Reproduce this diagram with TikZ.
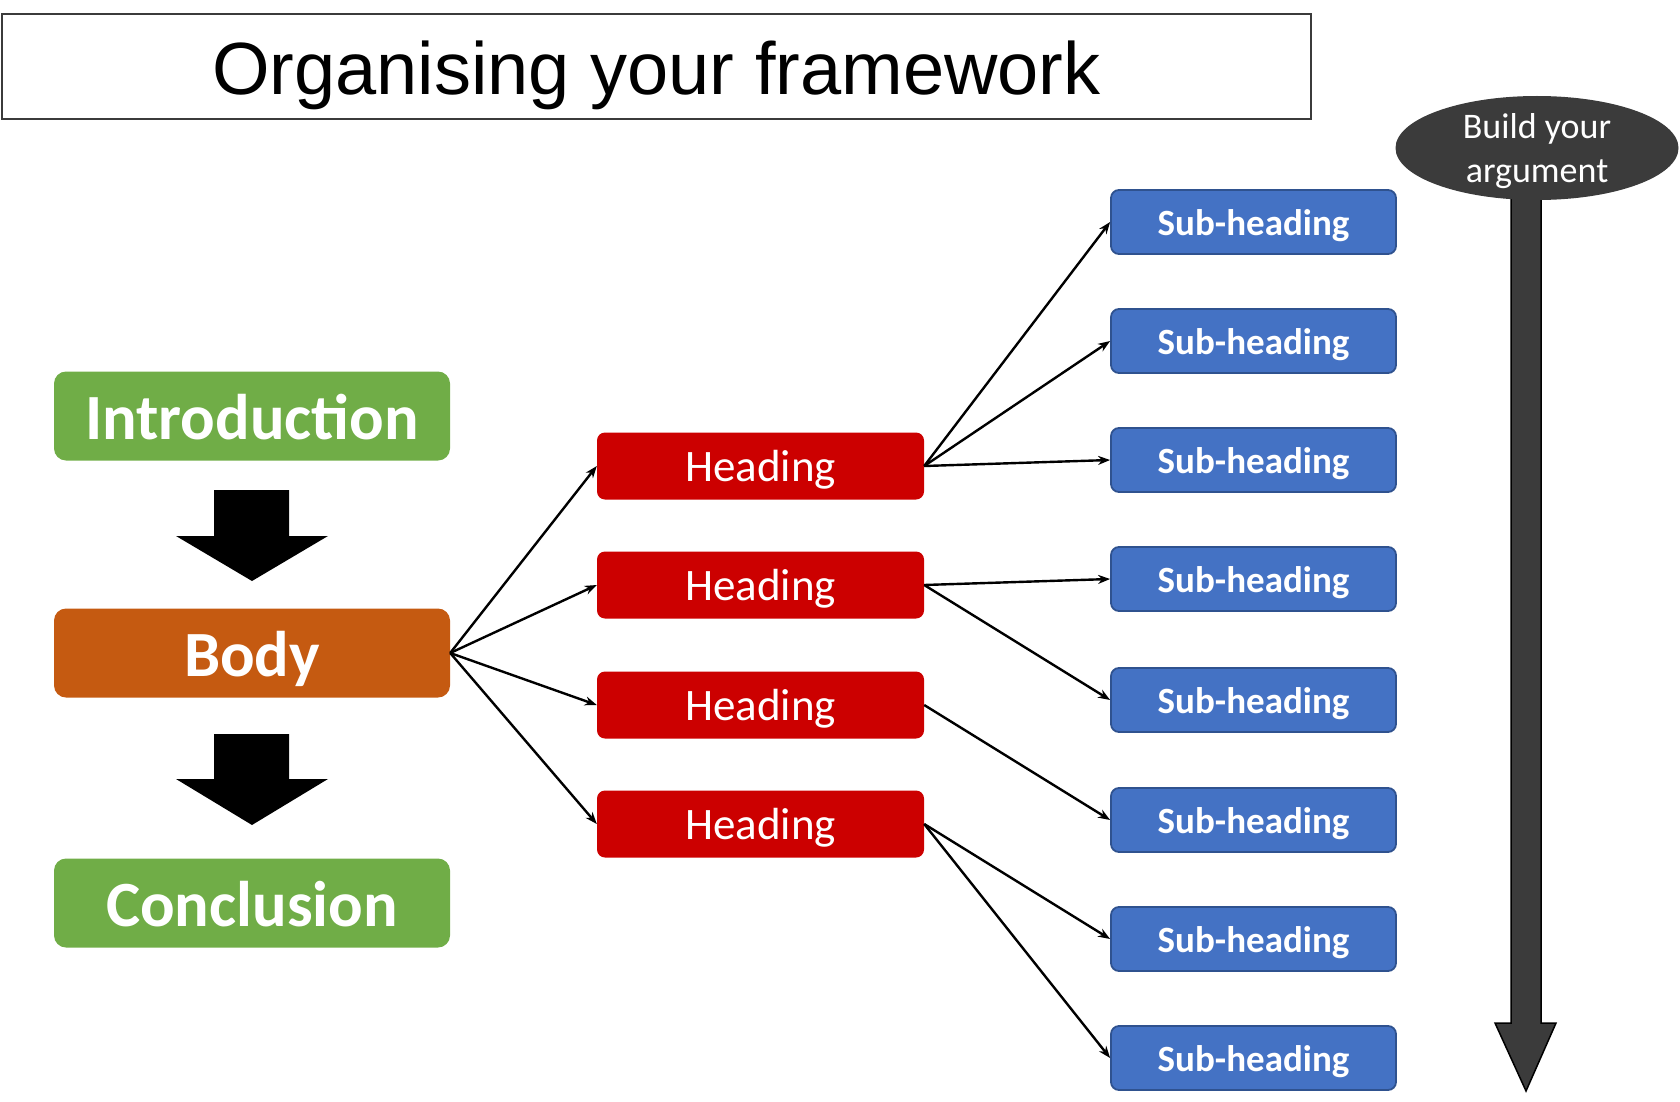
\documentclass[tikz,border=0pt]{standalone}
\usepackage{fontspec}
\setmainfont{Carlito}
\newfontfamily\titlefont{Liberation Sans}
\usetikzlibrary{arrows.meta,shapes.geometric}
\definecolor{cgreen}{HTML}{70AD47}
\definecolor{corange}{HTML}{C55A11}
\definecolor{cred}{HTML}{CC0000}
\definecolor{cblue}{HTML}{4472C4}
\definecolor{cblueb}{HTML}{2F528F}
\definecolor{cdark}{HTML}{3B3B3B}
% baseline placed #1 pt below the node centre
\newcommand{\bl}[2]{\makebox[0pt]{\raisebox{-#1pt}[0pt][0pt]{#2}}}
\tikzset{
  mainbox/.style={rectangle, rounded corners=12pt, minimum width=396pt, minimum height=89pt, inner sep=0pt, text=white, font=\bfseries\fontsize{64.5}{70}\selectfont},
  headbox/.style={rectangle, rounded corners=8pt, fill=cred, minimum width=327pt, minimum height=67pt, inner sep=0pt, text=white, font=\fontsize{45}{50}\selectfont},
  subbox/.style={rectangle, rounded corners=8pt, fill=cblue, draw=cblueb, line width=1.8pt, minimum width=285pt, minimum height=64pt, inner sep=0pt, text=white, font=\bfseries\fontsize{37}{42}\selectfont},
  conn/.style={line width=2.4pt, -{Stealth[length=12pt,width=9pt]}},
  blockarrow/.style={fill=black},
}
\begin{document}
\begin{tikzpicture}[x=1pt,y=-1pt]
\useasboundingbox (0,0) rectangle (1680,1102);
% title
\node[draw=cdark, line width=2pt, minimum width=1309pt, minimum height=105pt, inner sep=0pt, font=\titlefont\fontsize{74}{80}\selectfont] (title) at (656.5,66.5) {\bl{28}{Organising your framework}};
% left column
\node[mainbox, fill=cgreen] (intro) at (252,416) {\bl{23.5}{Introduction}};
\node[mainbox, fill=corange] (body) at (252,653) {\bl{23.5}{Body}};
\node[mainbox, fill=cgreen] (concl) at (252,903) {\bl{23.5}{Conclusion}};
\fill[blockarrow] (214,490) -- (289,490) -- (289,536) -- (328,536) -- (252,581) -- (176,536) -- (214,536) -- cycle;
\fill[blockarrow] (214,734) -- (289,734) -- (289,779) -- (328,779) -- (252,825) -- (176,779) -- (214,779) -- cycle;
% headings
\node[headbox] (h1) at (760.5,466) {\bl{15.5}{Heading}};
\node[headbox] (h2) at (760.5,585) {\bl{15.5}{Heading}};
\node[headbox] (h3) at (760.5,705) {\bl{15.5}{Heading}};
\node[headbox] (h4) at (760.5,824) {\bl{15.5}{Heading}};
% sub-headings
\node[subbox] (s1) at (1253.5,222) {\bl{13.5}{Sub-heading}};
\node[subbox] (s2) at (1253.5,341) {\bl{13.5}{Sub-heading}};
\node[subbox] (s3) at (1253.5,460) {\bl{13.5}{Sub-heading}};
\node[subbox] (s4) at (1253.5,579) {\bl{13.5}{Sub-heading}};
\node[subbox] (s5) at (1253.5,700) {\bl{13.5}{Sub-heading}};
\node[subbox] (s6) at (1253.5,820) {\bl{13.5}{Sub-heading}};
\node[subbox] (s7) at (1253.5,939) {\bl{13.5}{Sub-heading}};
\node[subbox] (s8) at (1253.5,1058) {\bl{13.5}{Sub-heading}};
% connectors
\foreach \h in {h1,h2,h3,h4} \draw[conn] (body.east) -- (\h.west);
\draw[conn] (h1.east) -- (s1.west);
\draw[conn] (h1.east) -- (s2.west);
\draw[conn] (h1.east) -- (s3.west);
\draw[conn] (h2.east) -- (s4.west);
\draw[conn] (h2.east) -- (s5.west);
\draw[conn] (h3.east) -- (s6.west);
\draw[conn] (h4.east) -- (s7.west);
\draw[conn] (h4.east) -- (s8.west);
% build your argument
\draw[fill=cdark, draw=black, line width=1.5pt] (1511,180) -- (1541,180) -- (1541,1023) -- (1556,1023) -- (1526,1091) -- (1495,1023) -- (1511,1023) -- cycle;
\node[ellipse, fill=cdark, minimum width=283pt, minimum height=104pt, inner sep=0pt, text=white, font=\fontsize{36}{45}\selectfont] (arg) at (1537,148) {\bl{-9}{Build your}\bl{35}{argument}};
\end{tikzpicture}
\end{document}
